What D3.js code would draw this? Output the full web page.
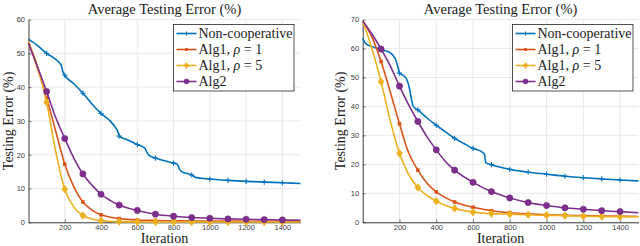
<!DOCTYPE html>
<html><head><meta charset="utf-8">
<script src="https://cdn.jsdelivr.net/npm/d3@7"></script>
<style>
html,body{margin:0;padding:0;background:#fff;}
svg{display:block;}
</style></head>
<body>
<svg id="chart" width="640" height="246"></svg>
<script>
// ---------------- DATA ----------------
const xTicks = [200, 400, 600, 800, 1000, 1200, 1400];
const leftYTicks = [0, 10, 20, 30, 40, 50, 60];
const rightYTicks = [0, 10, 20, 30, 40, 50, 60, 70];
const seriesNames = ["Non-cooperative", "Alg1, ρ = 1", "Alg1, ρ = 5", "Alg2"];
const seriesColors = ["#0072BD", "#D95319", "#EDB120", "#7E2F8E"];
const seriesMarkers = ["plus", "square", "diamond", "circle"];

const smoothIter = [0, 50, 100, 150, 200, 250, 300, 350, 400, 450, 500, 600, 700, 800, 900, 1000, 1100, 1200, 1300, 1400, 1500];

// Left chart
const leftNonCoopIter = [0, 50, 100, 150, 180, 190, 200, 250, 300, 350, 400, 450, 480, 495, 500, 550, 600, 640, 655, 665, 700, 750, 800, 820, 835, 845, 900, 920, 1000, 1100, 1200, 1300, 1400, 1500];
const leftNonCoop = [54.2, 52.3, 50, 48.2, 46.5, 44.5, 43.5, 41, 38.2, 35, 32.2, 30, 28, 26.5, 25.5, 24.3, 23, 22, 20.5, 19.8, 19, 18.2, 17.5, 17.2, 15.5, 15, 14, 13.3, 12.8, 12.4, 12.1, 11.9, 11.7, 11.5];
const leftAlg1Rho1 = [53.5, 45.5, 36.8, 27, 17.2, 10.5, 6, 3.6, 2.2, 1.5, 1.1, 0.7, 0.55, 0.45, 0.4, 0.38, 0.35, 0.33, 0.32, 0.31, 0.3];
const leftAlg1Rho5 = [53.5, 46, 35.5, 21, 9.8, 4.5, 2, 1, 0.5, 0.3, 0.2, 0.12, 0.1, 0.1, 0.1, 0.1, 0.1, 0.1, 0.1, 0.1, 0.1];
const leftAlg2 = [53, 46, 38.7, 31, 24.8, 19, 14.3, 11, 8.3, 6.5, 5.1, 3.5, 2.4, 1.8, 1.4, 1.2, 1.0, 0.9, 0.8, 0.7, 0.6];

// Right chart
const rightNonCoopIter = [0, 20, 50, 100, 150, 170, 180, 190, 200, 220, 240, 255, 265, 275, 300, 350, 400, 450, 500, 550, 600, 650, 662, 670, 700, 750, 800, 900, 1000, 1100, 1200, 1300, 1400, 1500];
const rightNonCoop = [63.4, 61.5, 60.7, 59.6, 58.5, 57.2, 56, 54, 51.5, 50.7, 49.3, 46, 42.5, 40, 38.8, 36, 33.5, 31.2, 29, 27.2, 25.5, 24.2, 23.5, 20.5, 19.9, 19, 18.3, 17.3, 16.6, 15.9, 15.4, 15.0, 14.6, 14.3];
const rightAlg1Rho1 = [69.5, 64, 55.5, 45, 34, 24, 18, 13.5, 10.5, 8.5, 7, 5.2, 4, 3.3, 2.9, 2.6, 2.4, 2.3, 2.2, 2.1, 2.0];
const rightAlg1Rho5 = [69.5, 60, 48.5, 35, 23.8, 16.5, 12, 9.2, 7.3, 5.8, 4.8, 3.5, 3.0, 2.8, 2.6, 2.4, 2.3, 2.1, 2.0, 1.9, 1.9];
const rightAlg2 = [69.5, 65, 59.8, 54, 47, 40.5, 34.8, 29.5, 25, 21, 18, 13.8, 10.6, 8.4, 6.8, 5.8, 5.0, 4.5, 4.0, 3.7, 3.3];

const titleText = "Average Testing Error (%)";
const xLabelText = "Iteration";
const yLabelText = "Testing Error (%)";

// ---------------- DRAW ----------------
const svg = d3.select("#chart");
const serif = "'Liberation Serif', 'DejaVu Serif', serif";
const sans = "'Liberation Sans', Arial, sans-serif";

function drawPanel(cfg) {
  const x = d3.scaleLinear().domain([0, 1500]).range([cfg.x0, cfg.x1]);
  const y = d3.scaleLinear().domain([0, cfg.yMax]).range([cfg.yBottom, cfg.yTop]);
  const g = svg.append("g");

  // grid
  g.append("g").selectAll("line").data(xTicks).join("line")
    .attr("x1", d => x(d)).attr("x2", d => x(d))
    .attr("y1", cfg.yTop).attr("y2", cfg.yBottom)
    .attr("stroke", "#e3e3e3").attr("stroke-width", 0.8);
  g.append("g").selectAll("line").data(cfg.yTicks).join("line")
    .attr("x1", cfg.x0).attr("x2", cfg.x1)
    .attr("y1", d => y(d)).attr("y2", d => y(d))
    .attr("stroke", "#e3e3e3").attr("stroke-width", 0.8);

  // axes
  const fmt = d3.format("d");
  const xAxis = d3.axisBottom(x).tickValues(xTicks).tickFormat(fmt).tickSizeInner(-3).tickSizeOuter(0).tickPadding(2);
  const yAxis = d3.axisLeft(y).tickValues(cfg.yTicks).tickFormat(fmt).tickSizeInner(-3).tickSizeOuter(0).tickPadding(3.5);
  const gx = g.append("g").attr("transform", `translate(0,${cfg.yBottom})`).call(xAxis);
  const gy = g.append("g").attr("transform", `translate(${cfg.x0},0)`).call(yAxis);
  [gx, gy].forEach(a => {
    a.select(".domain").attr("stroke", "#262626").attr("stroke-width", 0.9);
    a.selectAll(".tick line").attr("stroke", "#262626").attr("stroke-width", 0.6);
    a.selectAll("text").attr("font-family", sans).attr("font-size", 7.5).attr("fill", "#404040");
  });

  // series
  const series = cfg.series;
  const line = d3.line().x(d => x(d[0])).y(d => y(d[1])).curve(d3.curveMonotoneX);
  series.forEach((s, i) => {
    const pts = s.iter.map((it, k) => [it, s.vals[k]]);
    g.append("path").datum(pts).attr("d", line)
      .attr("fill", "none").attr("stroke", seriesColors[i]).attr("stroke-width", 1.6)
      .attr("stroke-linejoin", "round");
    const mpts = pts.filter(p => p[0] % 100 === 0 && p[0] >= 100 && p[0] <= 1400);
    mpts.forEach(p => drawMarker(g, seriesMarkers[i], x(p[0]), y(p[1]), seriesColors[i]));
  });

  // title & labels
  const cx = (cfg.x0 + cfg.x1) / 2;
  g.append("text").attr("x", cx).attr("y", 14).attr("text-anchor", "middle")
    .attr("font-family", serif).attr("font-size", 14.5).attr("fill", "#1a1a1a").text(titleText);
  g.append("text").attr("x", cx).attr("y", 242.5).attr("text-anchor", "middle")
    .attr("font-family", serif).attr("font-size", 14).attr("fill", "#1a1a1a").text(xLabelText);
  g.append("text").attr("transform", `translate(${cfg.yLabelX},${(cfg.yTop + cfg.yBottom) / 2}) rotate(-90)`)
    .attr("text-anchor", "middle")
    .attr("font-family", serif).attr("font-size", 14).attr("fill", "#1a1a1a").text(yLabelText);

  // legend
  const lg = g.append("g");
  lg.append("rect").attr("x", cfg.legX).attr("y", 24.5).attr("width", 120.5).attr("height", 66.5)
    .attr("fill", "#fff").attr("stroke", "#262626").attr("stroke-width", 0.8);
  seriesNames.forEach((name, i) => {
    const yy = 33.5 + i * 16;
    lg.append("line").attr("x1", cfg.legX + 3).attr("x2", cfg.legX + 23).attr("y1", yy).attr("y2", yy)
      .attr("stroke", seriesColors[i]).attr("stroke-width", 1.6);
    drawMarker(lg, seriesMarkers[i], cfg.legX + 13, yy, seriesColors[i], 0.8);
    const t = lg.append("text").attr("x", cfg.legX + 25).attr("y", yy + 4.5)
      .attr("font-family", serif).attr("font-size", 14).attr("fill", "#1a1a1a");
    const m = name.match(/^(.*, )ρ( = \d)$/);
    if (m) {
      t.append("tspan").text(m[1]);
      t.append("tspan").attr("font-style", "italic").text("ρ");
      t.append("tspan").text(m[2]);
    } else {
      t.text(name);
    }
  });
}

function drawMarker(g, type, cx, cy, color, scale = 1) {
  if (type === "plus") {
    const r = 2.6 * scale;
    g.append("path").attr("d", `M${cx - r},${cy}H${cx + r}M${cx},${cy - r}V${cy + r}`)
      .attr("stroke", color).attr("stroke-width", 1.1).attr("fill", "none");
  } else if (type === "square") {
    const r = 1.8 * scale;
    g.append("rect").attr("x", cx - r).attr("y", cy - r).attr("width", 2 * r).attr("height", 2 * r)
      .attr("fill", color);
  } else if (type === "diamond") {
    const r = 3.8 * scale;
    g.append("path").attr("d", `M${cx},${cy - r}L${cx + r * 0.8},${cy}L${cx},${cy + r}L${cx - r * 0.8},${cy}Z`)
      .attr("fill", color).attr("stroke", color).attr("stroke-width", 0.6);
  } else {
    g.append("circle").attr("cx", cx).attr("cy", cy).attr("r", 3.1 * scale)
      .attr("fill", color).attr("stroke", "#6a2478").attr("stroke-width", 0.6);
  }
}

drawPanel({
  x0: 28.5, x1: 300.5, yTop: 19.5, yBottom: 222.3, yMax: 60, yTicks: leftYTicks, yLabelX: 12.5, legX: 173.5,
  series: [
    { iter: leftNonCoopIter, vals: leftNonCoop },
    { iter: smoothIter, vals: leftAlg1Rho1 },
    { iter: smoothIter, vals: leftAlg1Rho5 },
    { iter: smoothIter, vals: leftAlg2 }
  ]
});
drawPanel({
  x0: 362.7, x1: 638.5, yTop: 19.5, yBottom: 222.3, yMax: 70, yTicks: rightYTicks, yLabelX: 345, legX: 512.5,
  series: [
    { iter: rightNonCoopIter, vals: rightNonCoop },
    { iter: smoothIter, vals: rightAlg1Rho1 },
    { iter: smoothIter, vals: rightAlg1Rho5 },
    { iter: smoothIter, vals: rightAlg2 }
  ]
});
</script>
</body></html>
